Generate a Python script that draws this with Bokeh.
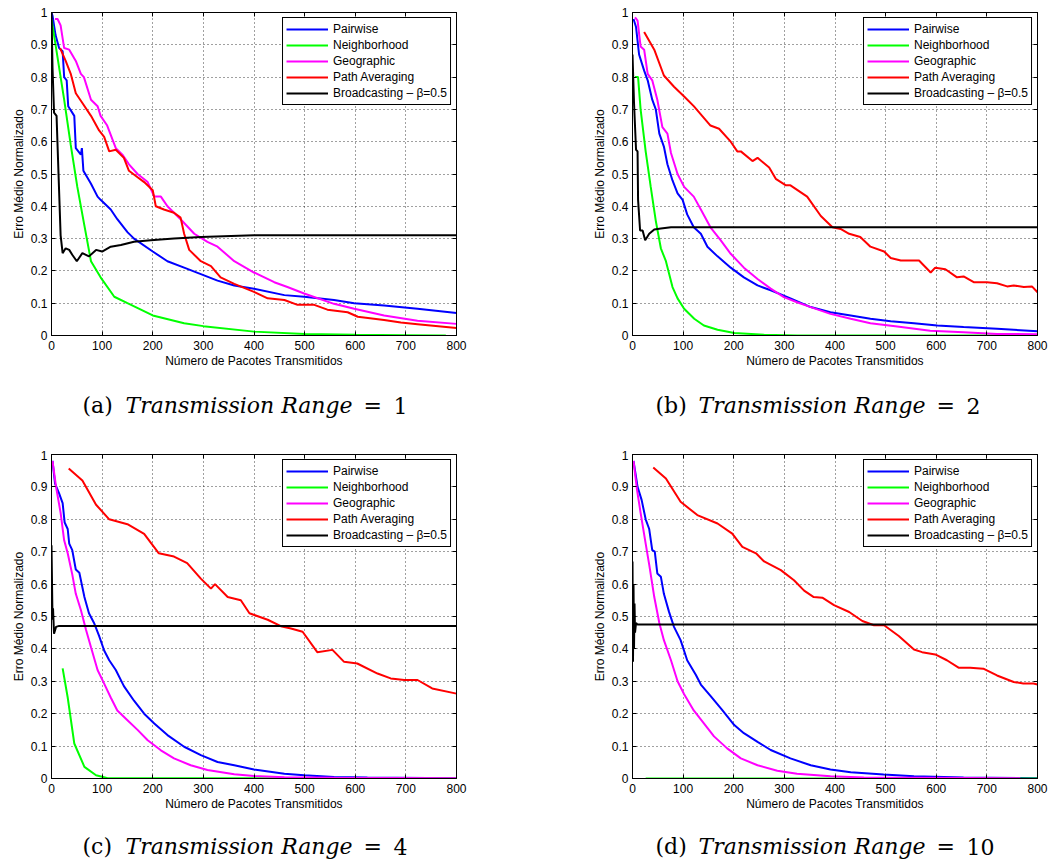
from bokeh.plotting import figure
from bokeh.layouts import row, column
from bokeh.models import (Legend, LegendItem, LinearAxis, FixedTicker,
                          NumeralTickFormatter, CustomJSTickFormatter, Range1d)
from bokeh.core.properties import value
from bokeh.embed import file_html
from bokeh.resources import INLINE

SERIES_NAMES = ["Pairwise", "Neighborhood", "Geographic", "Path Averaging", "Broadcasting \u2013 \u03b2=0.5"]
COLORS = ["#0000ff", "#00ff00", "#ff00ff", "#ff0000", "#000000"]
X_TICKS = [0, 100, 200, 300, 400, 500, 600, 700, 800]
Y_TICKS = [0, 0.1, 0.2, 0.3, 0.4, 0.5, 0.6, 0.7, 0.8, 0.9, 1]
X_LABEL = "N\u00famero de Pacotes Transmitidos"
Y_LABEL = "Erro M\u00e9dio Normalizado"
CAPTION_LETTERS = ["(a)", "(b)", "(c)", "(d)"]
CAPTION_TEXT = "Transmission Range"
CAPTION_VALUES = ["1", "2", "4", "10"]

# ---------------- (a) Transmission Range = 1 ----------------
pw_a_x = [0, 2, 8, 15, 22, 25, 30, 33, 45, 48, 58, 60, 63, 78, 91, 97, 117, 130, 150, 163, 200, 229, 262, 295, 328, 361, 400, 460, 499, 558, 598, 657, 723, 800]
pw_a_y = [1.0, 0.99, 0.93, 0.89, 0.88, 0.80, 0.79, 0.71, 0.68, 0.58, 0.56, 0.58, 0.51, 0.47, 0.43, 0.42, 0.39, 0.36, 0.32, 0.30, 0.26, 0.23, 0.21, 0.19, 0.17, 0.155, 0.145, 0.125, 0.12, 0.11, 0.10, 0.093, 0.083, 0.07]
nb_a_x = [0, 5, 15, 25, 38, 51, 65, 78, 97, 124, 150, 200, 262, 300, 400, 500, 600, 700, 779]
nb_a_y = [0.98, 0.93, 0.83, 0.73, 0.59, 0.46, 0.34, 0.23, 0.18, 0.12, 0.10, 0.062, 0.038, 0.029, 0.012, 0.005, 0.002, 0.001, 0.0]
geo_a_x = [7, 12, 18, 25, 35, 48, 58, 64, 78, 91, 97, 110, 127, 140, 153, 170, 190, 203, 216, 229, 255, 282, 308, 328, 361, 400, 440, 466, 499, 558, 598, 657, 723, 800]
geo_a_y = [0.98, 0.98, 0.96, 0.89, 0.885, 0.85, 0.81, 0.80, 0.73, 0.71, 0.68, 0.65, 0.58, 0.56, 0.53, 0.50, 0.475, 0.43, 0.43, 0.40, 0.36, 0.315, 0.29, 0.275, 0.23, 0.195, 0.165, 0.15, 0.13, 0.098, 0.083, 0.062, 0.046, 0.036]
pa_a_x = [17, 28, 38, 48, 61, 78, 94, 104, 114, 127, 143, 153, 170, 183, 200, 206, 222, 242, 255, 262, 272, 295, 315, 334, 361, 400, 427, 460, 486, 519, 545, 585, 605, 657, 690, 723, 800]
pa_a_y = [0.89, 0.85, 0.81, 0.75, 0.72, 0.68, 0.635, 0.615, 0.57, 0.575, 0.55, 0.51, 0.49, 0.475, 0.45, 0.40, 0.39, 0.38, 0.365, 0.315, 0.265, 0.23, 0.215, 0.18, 0.16, 0.135, 0.115, 0.11, 0.095, 0.095, 0.08, 0.072, 0.058, 0.048, 0.04, 0.035, 0.023]
bc_a_x = [0, 2, 5, 10, 13, 18, 22, 28, 35, 41, 50, 61, 74, 88, 100, 117, 137, 163, 196, 242, 295, 400, 558, 800]
bc_a_y = [1.0, 0.83, 0.69, 0.68, 0.54, 0.31, 0.255, 0.27, 0.265, 0.25, 0.23, 0.255, 0.245, 0.265, 0.26, 0.275, 0.28, 0.29, 0.295, 0.30, 0.305, 0.31, 0.31, 0.31]

# ---------------- (b) Transmission Range = 2 ----------------
pw_b_x = [2, 7, 13, 23, 30, 39, 46, 53, 62, 69, 79, 89, 99, 108, 121, 135, 148, 168, 194, 220, 247, 273, 312, 352, 391, 431, 470, 510, 556, 602, 654, 720, 800]
pw_b_y = [0.98, 0.955, 0.87, 0.82, 0.79, 0.73, 0.70, 0.625, 0.585, 0.53, 0.48, 0.44, 0.42, 0.375, 0.335, 0.315, 0.275, 0.245, 0.21, 0.18, 0.155, 0.14, 0.115, 0.088, 0.072, 0.062, 0.052, 0.044, 0.038, 0.031, 0.026, 0.021, 0.013]
nb_b_x = [5, 11, 16, 26, 36, 46, 56, 66, 79, 89, 102, 122, 141, 168, 201, 260, 325, 800]
nb_b_y = [0.80, 0.80, 0.70, 0.57, 0.46, 0.355, 0.27, 0.23, 0.15, 0.115, 0.083, 0.052, 0.031, 0.018, 0.008, 0.002, 0.0, 0.0]
geo_b_x = [5, 10, 16, 23, 30, 39, 49, 59, 69, 76, 89, 102, 121, 135, 154, 174, 194, 220, 247, 273, 299, 325, 352, 391, 431, 470, 523, 588, 654, 720, 800]
geo_b_y = [0.985, 0.975, 0.895, 0.885, 0.81, 0.79, 0.73, 0.645, 0.625, 0.565, 0.50, 0.46, 0.43, 0.39, 0.335, 0.295, 0.253, 0.21, 0.175, 0.145, 0.119, 0.103, 0.088, 0.067, 0.052, 0.038, 0.028, 0.015, 0.010, 0.005, 0.004]
pa_b_x = [23, 43, 62, 82, 102, 121, 154, 171, 194, 207, 214, 237, 247, 270, 283, 303, 312, 345, 372, 395, 411, 428, 450, 470, 497, 510, 530, 566, 589, 598, 618, 641, 654, 674, 700, 720, 740, 753, 773, 789, 800]
pa_b_y = [0.94, 0.885, 0.805, 0.77, 0.74, 0.71, 0.65, 0.64, 0.60, 0.57, 0.57, 0.54, 0.55, 0.52, 0.485, 0.465, 0.465, 0.43, 0.37, 0.335, 0.33, 0.315, 0.305, 0.275, 0.26, 0.24, 0.232, 0.232, 0.195, 0.21, 0.205, 0.18, 0.183, 0.165, 0.165, 0.162, 0.152, 0.155, 0.15, 0.152, 0.134]
bc_b_x = [0, 3, 7, 10, 11, 15, 20, 25, 33, 43, 56, 76, 800]
bc_b_y = [0.87, 0.72, 0.575, 0.57, 0.42, 0.325, 0.325, 0.295, 0.315, 0.328, 0.331, 0.335, 0.335]

# ---------------- (c) Transmission Range = 4 ----------------
pw_c_x = [2, 7, 15, 22, 26, 32, 35, 41, 48, 55, 65, 74, 84, 94, 104, 114, 127, 143, 163, 183, 203, 229, 262, 295, 328, 361, 400, 460, 499, 558, 624, 800]
pw_c_y = [0.98, 0.91, 0.88, 0.85, 0.79, 0.77, 0.725, 0.705, 0.645, 0.635, 0.56, 0.51, 0.48, 0.44, 0.395, 0.365, 0.335, 0.285, 0.24, 0.20, 0.17, 0.134, 0.098, 0.072, 0.051, 0.041, 0.028, 0.015, 0.010, 0.005, 0.003, 0.001]
nb_c_x = [22, 32, 45, 65, 88, 111, 800]
nb_c_y = [0.34, 0.25, 0.108, 0.036, 0.010, 0.001, 0.0]
geo_c_x = [2, 9, 18, 25, 32, 41, 48, 58, 68, 78, 91, 104, 117, 130, 150, 170, 190, 216, 242, 275, 308, 361, 400, 460, 558, 800]
geo_c_y = [0.98, 0.90, 0.82, 0.735, 0.695, 0.63, 0.57, 0.52, 0.46, 0.405, 0.335, 0.293, 0.25, 0.21, 0.18, 0.15, 0.118, 0.087, 0.062, 0.041, 0.026, 0.013, 0.008, 0.004, 0.002, 0.001]
pa_c_x = [34, 61, 88, 114, 150, 183, 212, 242, 268, 295, 315, 323, 348, 374, 391, 427, 453, 473, 496, 525, 555, 578, 604, 644, 670, 697, 723, 752, 800]
pa_c_y = [0.957, 0.92, 0.845, 0.80, 0.785, 0.755, 0.695, 0.685, 0.665, 0.617, 0.586, 0.60, 0.56, 0.55, 0.51, 0.49, 0.47, 0.463, 0.453, 0.39, 0.397, 0.36, 0.355, 0.324, 0.309, 0.304, 0.304, 0.278, 0.262]
bc_c_x = [0, 2, 3, 5, 9, 15, 800]
bc_c_y = [0.72, 0.49, 0.525, 0.447, 0.468, 0.471, 0.471]

# ---------------- (d) Transmission Range = 10 ----------------
pw_d_x = [2, 10, 18, 26, 33, 39, 44, 49, 56, 62, 72, 82, 95, 108, 125, 135, 154, 177, 201, 220, 247, 273, 312, 352, 391, 431, 496, 556, 654, 800]
pw_d_y = [0.98, 0.90, 0.86, 0.80, 0.77, 0.705, 0.70, 0.633, 0.623, 0.57, 0.515, 0.468, 0.427, 0.365, 0.32, 0.29, 0.255, 0.212, 0.165, 0.14, 0.113, 0.088, 0.062, 0.041, 0.028, 0.019, 0.012, 0.007, 0.003, 0.001]
nb_d_x = [26, 800]
nb_d_y = [0.0, 0.0]
geo_d_x = [2, 9, 16, 26, 33, 43, 53, 62, 76, 89, 102, 121, 141, 161, 187, 214, 247, 286, 325, 391, 457, 766]
geo_d_y = [0.98, 0.89, 0.82, 0.725, 0.66, 0.56, 0.48, 0.427, 0.365, 0.30, 0.26, 0.21, 0.17, 0.13, 0.093, 0.062, 0.041, 0.024, 0.015, 0.007, 0.003, 0.001]
pa_d_x = [41, 66, 95, 128, 168, 197, 217, 244, 260, 293, 319, 339, 358, 375, 398, 428, 454, 477, 497, 526, 556, 572, 598, 621, 644, 667, 693, 720, 753, 772, 792, 800]
pa_d_y = [0.96, 0.926, 0.854, 0.813, 0.787, 0.756, 0.715, 0.695, 0.67, 0.643, 0.612, 0.58, 0.56, 0.558, 0.535, 0.514, 0.486, 0.473, 0.473, 0.44, 0.398, 0.39, 0.383, 0.365, 0.342, 0.342, 0.339, 0.318, 0.298, 0.293, 0.293, 0.29]
bc_d_x = [0, 1, 2, 3, 4, 5, 7, 10, 800]
bc_d_y = [0.67, 0.36, 0.60, 0.40, 0.54, 0.45, 0.48, 0.475, 0.475]

PANELS = [
    [(pw_a_x, pw_a_y), (nb_a_x, nb_a_y), (geo_a_x, geo_a_y), (pa_a_x, pa_a_y), (bc_a_x, bc_a_y)],
    [(pw_b_x, pw_b_y), (nb_b_x, nb_b_y), (geo_b_x, geo_b_y), (pa_b_x, pa_b_y), (bc_b_x, bc_b_y)],
    [(pw_c_x, pw_c_y), (nb_c_x, nb_c_y), (geo_c_x, geo_c_y), (pa_c_x, pa_c_y), (bc_c_x, bc_c_y)],
    [(pw_d_x, pw_d_y), (nb_d_x, nb_d_y), (geo_d_x, geo_d_y), (pa_d_x, pa_d_y), (bc_d_x, bc_d_y)],
]

SANS = "Liberation Sans"
SERIF = "DejaVu Serif"
FRAME_W = 405
BLANK = CustomJSTickFormatter(code="return '';")


def style_axis(ax, ticks, show_labels):
    ax.ticker = FixedTicker(ticks=ticks)
    ax.major_tick_in = 4
    ax.major_tick_out = 0
    ax.minor_tick_line_color = None
    ax.major_tick_line_color = "black"
    ax.axis_line_color = "black"
    ax.major_label_text_font = SANS
    ax.major_label_text_color = "black"
    ax.major_label_text_font_size = "12px"
    ax.axis_label_text_font = SANS
    ax.axis_label_text_font_style = "normal"
    ax.axis_label_text_color = "black"
    ax.axis_label_text_font_size = "12px"
    if show_labels:
        ax.formatter = NumeralTickFormatter(format="0.[0]")
    else:
        ax.formatter = BLANK
        ax.major_label_standoff = 0


def build_plot(idx, width, height, left, top, frame_h):
    series = PANELS[idx]
    p = figure(width=width, height=height, output_backend="svg", toolbar_location=None,
               x_range=Range1d(0, 800), y_range=Range1d(0, 1),
               min_border_left=left, min_border_right=width - left - FRAME_W,
               min_border_top=top, min_border_bottom=height - top - frame_h,
               background_fill_color="white", border_fill_color="white")
    p.outline_line_color = "black"
    p.outline_line_width = 1
    p.outline_line_alpha = 1

    style_axis(p.xaxis[0], X_TICKS, True)
    style_axis(p.yaxis[0], Y_TICKS, True)
    p.xaxis[0].axis_label = X_LABEL
    p.yaxis[0].axis_label = Y_LABEL
    p.xaxis[0].major_label_standoff = 5
    p.xaxis[0].axis_label_standoff = 1
    p.yaxis[0].major_label_standoff = 4
    p.yaxis[0].axis_label_standoff = 2

    top_ax = LinearAxis()
    style_axis(top_ax, X_TICKS, False)
    p.add_layout(top_ax, "above")
    right_ax = LinearAxis()
    style_axis(right_ax, Y_TICKS, False)
    p.add_layout(right_ax, "right")

    for g in (p.xgrid[0], p.ygrid[0]):
        g.grid_line_color = "black"
        g.grid_line_alpha = 0.75
        g.grid_line_dash = "1 3"
        g.grid_line_width = 1

    items = []
    for (xs, ys), name, color in zip(series, SERIES_NAMES, COLORS):
        r = p.line(xs, ys, line_color=color, line_width=2)
        items.append(LegendItem(label=name, renderers=[r]))

    leg = Legend(items=items, location="top_right")
    leg.label_text_font = SANS
    leg.label_text_font_size = "12px"
    leg.label_text_color = "black"
    leg.glyph_width = 42
    leg.glyph_height = 16
    leg.label_height = 16
    leg.label_standoff = 5
    leg.spacing = 0
    leg.padding = 3
    leg.margin = 5
    leg.border_line_color = "black"
    leg.border_line_width = 1
    leg.border_line_alpha = 1
    leg.background_fill_color = "white"
    leg.background_fill_alpha = 1
    p.add_layout(leg)
    return p


CAPTION_OFFSETS = [0, 43, 281, 311]
CAPTION_STYLES = ["normal", "italic", "normal", "normal"]


def build_caption(idx, width, height, x_start, y_center):
    c = figure(width=width, height=height, output_backend="svg", toolbar_location=None,
               x_range=Range1d(0, width), y_range=Range1d(0, height),
               x_axis_location=None, y_axis_location=None,
               min_border=0, min_border_left=0, min_border_right=0,
               min_border_top=0, min_border_bottom=0,
               background_fill_color="white", border_fill_color="white")
    c.outline_line_color = None
    c.xgrid.visible = False
    c.ygrid.visible = False
    texts = [CAPTION_LETTERS[idx], CAPTION_TEXT, "=", CAPTION_VALUES[idx]]
    for text, style, dx in zip(texts, CAPTION_STYLES, CAPTION_OFFSETS):
        c.text(x=[x_start + dx], y=[height - y_center], text=[text],
               text_font=value(SERIF), text_font_size=value("22px"),
               text_font_style=value(style), text_color="black",
               text_align="left", text_baseline="middle")
    return c


LEFT_W, RIGHT_W = 589, 470

pa = build_plot(0, LEFT_W, 370, 51, 12, 323)
pb = build_plot(1, RIGHT_W, 370, 43, 12, 323)
ca = build_caption(0, LEFT_W, 80, 82, 35)
cb = build_caption(1, RIGHT_W, 80, 66, 35)
pc = build_plot(2, LEFT_W, 363, 51, 4, 324)
pd = build_plot(3, RIGHT_W, 363, 43, 4, 324)
cc = build_caption(2, LEFT_W, 49, 82, 33)
cd = build_caption(3, RIGHT_W, 49, 66, 33)

layout = column(row(pa, pb), row(ca, cb), row(pc, pd), row(cc, cd))
open("out.html", "w").write(file_html(layout, INLINE))
